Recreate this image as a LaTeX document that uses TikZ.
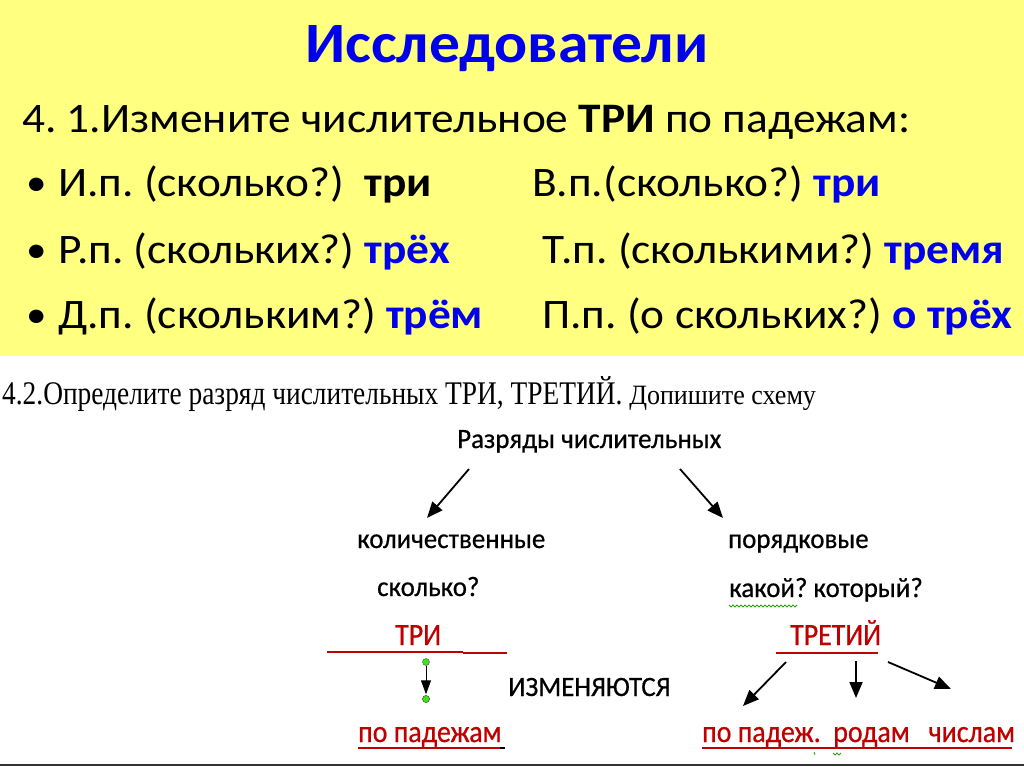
\documentclass[tikz,border=0pt]{standalone}
\usepackage{fontspec}
\setmainfont{Carlito}
\newfontfamily\wide[FakeStretch=1.08]{Carlito}
\newfontfamily\diafont[FakeStretch=0.96,FakeBold=0.6]{Carlito}
\newfontfamily\redfont[FakeStretch=0.9,FakeBold=0.6]{Carlito}
\newfontfamily\tnrA[FakeStretch=0.83]{Liberation Serif}
\newfontfamily\tnrB[FakeStretch=0.93]{Liberation Serif}
\usetikzlibrary{arrows.meta}
\definecolor{bgy}{RGB}{255,255,128}
\definecolor{tblue}{RGB}{0,0,235}
\definecolor{dred}{RGB}{192,0,0}
\definecolor{gdot}{RGB}{60,230,20}
\frenchspacing
\begin{document}
\begin{tikzpicture}[x=1pt,y=-1pt,
  txt/.style={inner sep=0pt, anchor=base west},
  body/.style={txt, font=\wide\fontsize{42}{42}\selectfont},
  bul/.style={txt, font=\wide\fontsize{38}{38}\selectfont},
  dia/.style={txt, font=\diafont\fontsize{28}{28}\selectfont},
  redtxt/.style={txt, font=\redfont\fontsize{31}{31}\selectfont, text=dred},
  bigarrow/.style={line width=1.8pt, -{Triangle[length=16pt,width=13pt]}},
  redline/.style={dred, line width=2pt},
  spell/.style={gdot!70!black, line width=0.8pt},
  gdotst/.style={circle, fill=gdot, draw=black!70, line width=0.4pt, inner sep=0pt, minimum size=7pt}]
\useasboundingbox (0,0) rectangle (1024,767);
\fill[bgy] (0,0) rectangle (1024,356);
% title
\node[inner sep=0pt, anchor=base, font=\wide\fontsize{57}{57}\selectfont\bfseries, text=tblue] (title) at (507,63) {Исследователи};
% body
\node[body] (l1) at (22,133) {4. 1.Измените числительное \textbf{ТРИ} по падежам:};
\node[bul] (b1) at (26,196) {•};
\node[body] (l2a) at (58,197) {И.п. (сколько?) \ \textbf{три}};
\node[body] (l2b) at (532,197) {В.п.(сколько?) \textbf{\color{tblue}три}};
\node[bul] (b2) at (26,262) {•};
\node[body] (l3a) at (58,263) {Р.п. (скольких?) \textbf{\color{tblue}трёх}};
\node[body] (l3b) at (542,263) {Т.п. (сколькими?) \textbf{\color{tblue}тремя}};
\node[bul] (b3) at (26,327) {•};
\node[body] (l4a) at (58,328) {Д.п. (скольким?) \textbf{\color{tblue}трём}};
\node[body] (l4b) at (542,328) {П.п. (о скольких?) \textbf{\color{tblue}о трёх}};
% task 4.2
\node[txt, font=\tnrA\fontsize{33}{33}\selectfont] (task) at (2,404) {4.2.Определите разряд числительных ТРИ, ТРЕТИЙ. {\tnrB\fontsize{28}{28}\selectfont Допишите схему}};
% diagram
\node[dia] (razr) at (457,448) {Разряды числительных};
\node[dia] (kol) at (357,548) {количественные};
\node[dia] (skol) at (377,596) {сколько?};
\node[redtxt] (tri) at (395,645) {ТРИ};
\node[dia] (izm) at (508,696) {ИЗМЕНЯЮТСЯ};
\node[redtxt] (pad) at (358,742) {по падежам};
\node[dia] (por) at (728,548) {порядковые};
\node[dia] (kak) at (729,597) {какой? который?};
\node[redtxt] (tret) at (790,645) {ТРЕТИЙ};
\node[redtxt] (pad2) at (702,742) {по падеж.\ \ родам\ \ \ числам};
% arrows from heading
\coordinate (a1s) at (469,469); \coordinate (a1e) at (427,518);
\coordinate (a2s) at (680,469); \coordinate (a2e) at (723,518);
\draw[bigarrow] (a1s) -- (a1e);
\draw[bigarrow] (a2s) -- (a2e);
% underlines
\coordinate (u1s) at (327,652); \coordinate (u1e) at (463,652);
\draw[redline] (u1s) -- (u1e);
\coordinate (u1bs) at (463,653); \coordinate (u1be) at (507,653);
\draw[dred, line width=2.6pt] (u1bs) -- (u1be);
\coordinate (u2s) at (776,653); \coordinate (u2e) at (878,653);
\draw[redline] (u2s) -- (u2e);
\coordinate (u3s) at (358,748); \coordinate (u3e) at (500,748);
\draw[redline] (u3s) -- (u3e);
\draw[black, line width=1.5pt] (u3e) -- ++(5,0);
\coordinate (u4s) at (702,748); \coordinate (u4e) at (1012,748);
\draw[redline] (u4s) -- (u4e);
% green spell marks
\draw[spell] (729,605) \foreach \i in {1,...,17} {-- ++(2,2) -- ++(2,-2)};
\draw[spell] (814,752) -- ++(1,3);
\draw[spell] (833,753) -- ++(2,2) -- ++(2,-2) -- ++(2,2) -- ++(2,-2);
% small arrow with green dots
\node[gdotst] (g1) at (426,662) {};
\node[gdotst] (g2) at (426,699) {};
\draw[line width=1pt, -{Triangle[length=14pt,width=10pt]}, shorten >=1pt] (g1) -- (g2);
\node[gdotst] at (426,699) {};
% three arrows from ТРЕТИЙ
\coordinate (t1s) at (786,662); \coordinate (t1e) at (743,706);
\coordinate (t2s) at (856,661); \coordinate (t2e) at (856,698);
\coordinate (t3s) at (888,662); \coordinate (t3e) at (951,689);
\draw[bigarrow] (t1s) -- (t1e);
\draw[bigarrow] (t2s) -- (t2e);
\draw[bigarrow] (t3s) -- (t3e);
% bottom border line
\draw[black!80, line width=1.5pt] (0,765) -- (1024,765);
\end{tikzpicture}
\end{document}
